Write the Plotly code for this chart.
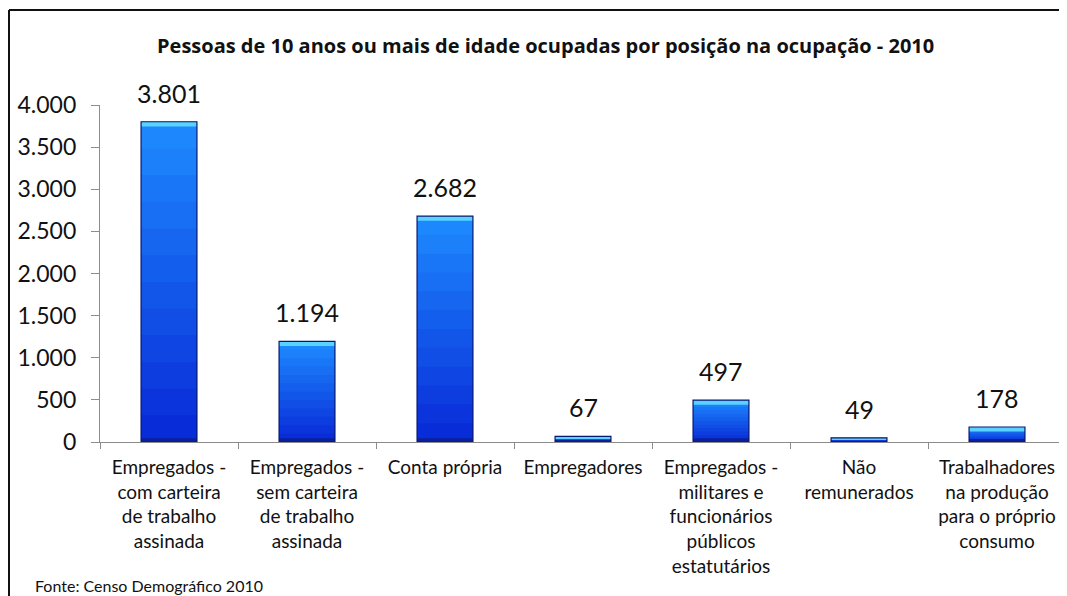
import plotly.graph_objects as go

categories = [
    "Empregados -<br>com carteira<br>de trabalho<br>assinada",
    "Empregados -<br>sem carteira<br>de trabalho<br>assinada",
    "Conta própria",
    "Empregadores",
    "Empregados -<br>militares e<br>funcionários<br>públicos<br>estatutários",
    "Não<br>remunerados",
    "Trabalhadores<br>na produção<br>para o próprio<br>consumo",
]
values = [3801, 1194, 2682, 67, 497, 49, 178]
value_labels = ["3.801", "1.194", "2.682", "67", "497", "49", "178"]
title_text = "Pessoas de 10 anos ou mais de idade ocupadas por posição na ocupação - 2010"
source_text = "Fonte: Censo Demográfico 2010"

FONT = "Lato"
BAR_W = 0.405
N_SLICES = 12
TOP_RGB = (30, 140, 255)
BOT_RGB = (8, 40, 215)

# The page body has an 8px margin, so the figure is 8px smaller than the window
W, H = 1059, 588
L, R, T, B = 92, 1, 97, 154
PW, PH = W - L - R, H - T - B

fig = go.Figure()

def mix(a, b, t):
    return "rgb(%d,%d,%d)" % tuple(round(a[i] + (b[i] - a[i]) * t) for i in range(3))

# vertical gradient: nested bars from full height down, each overlapping the last
for i in range(N_SLICES):
    frac = (N_SLICES - i) / N_SLICES
    t = (N_SLICES - i - 0.5) / N_SLICES
    fig.add_trace(go.Bar(
        x=categories, y=[v * frac for v in values], width=BAR_W,
        marker=dict(color=mix(BOT_RGB, TOP_RGB, t), line=dict(width=0)),
        hoverinfo="skip", showlegend=False,
    ))

cap = [min(v * 0.3, 55) for v in values]
fig.add_trace(go.Bar(
    x=categories, y=cap, base=[v - c for v, c in zip(values, cap)], width=BAR_W,
    marker=dict(color="#5ad2ff", line=dict(width=0)),
    hoverinfo="skip", showlegend=False,
))
foot = [min(v * 0.2, 45) for v in values]
fig.add_trace(go.Bar(
    x=categories, y=foot, width=BAR_W,
    marker=dict(color="#0a1f9a", line=dict(width=0)),
    hoverinfo="skip", showlegend=False,
))
# outline
fig.add_trace(go.Bar(
    x=categories, y=values, width=BAR_W,
    marker=dict(color="rgba(0,0,0,0)", line=dict(color="#0a1a70", width=1.2)),
    hoverinfo="skip", showlegend=False,
))

for c, v, t in zip(categories, values, value_labels):
    fig.add_annotation(x=c, y=v, text=t, showarrow=False, yanchor="bottom",
                       yshift=12, font=dict(family=FONT, size=25, color="#111111"))

fig.add_annotation(xref="paper", yref="paper", x=(545 - 8 - L) / PW, y=1.0,
                   xanchor="center", yanchor="middle", yshift=(T - 37),
                   text="<b>" + title_text + "</b>", showarrow=False,
                   font=dict(family="Open Sans", size=20, color="#111111"))
fig.add_annotation(xref="paper", yref="paper", x=(33 - 8 - L) / PW, y=0,
                   xanchor="left", yanchor="middle", yshift=-(585 - 8 - (H - B)),
                   text=source_text, showarrow=False,
                   font=dict(family=FONT, size=16, color="#111111"))

# frame: top and left lines
top_y = 1 + (T - 2) / PH
left_x = (9 - 8 - L) / PW
fig.add_shape(type="line", xref="paper", yref="paper",
              x0=left_x, x1=1 + R / PW + 0.01, y0=top_y, y1=top_y,
              line=dict(color="#111111", width=2))
fig.add_shape(type="line", xref="paper", yref="paper",
              x0=left_x, x1=left_x, y0=-(B + 10) / PH, y1=top_y,
              line=dict(color="#111111", width=2))

fig.update_layout(
    width=W, height=H,
    margin=dict(l=L, r=R, t=T, b=B, autoexpand=False),
    plot_bgcolor="white", paper_bgcolor="white",
    barmode="overlay", separators=",.",
    font=dict(family=FONT, color="#111111"),
    xaxis=dict(showline=True, linecolor="#8c8c8c", linewidth=1.2,
               ticks="outside", tickson="boundaries", ticklen=6, tickcolor="#8c8c8c",
               tickfont=dict(family=FONT, size=19, color="#111111"),
               ticklabelstandoff=8, showgrid=False, fixedrange=True),
    yaxis=dict(range=[0, 4000], dtick=500, tickformat=",d", showline=True,
               linecolor="#8c8c8c", linewidth=1.2, ticks="outside", ticklen=8,
               tickcolor="#8c8c8c", tickfont=dict(family=FONT, size=23, color="#111111"),
               ticklabelstandoff=10, showgrid=False, zeroline=False, fixedrange=True),
)

fig.write_html("out.html")
